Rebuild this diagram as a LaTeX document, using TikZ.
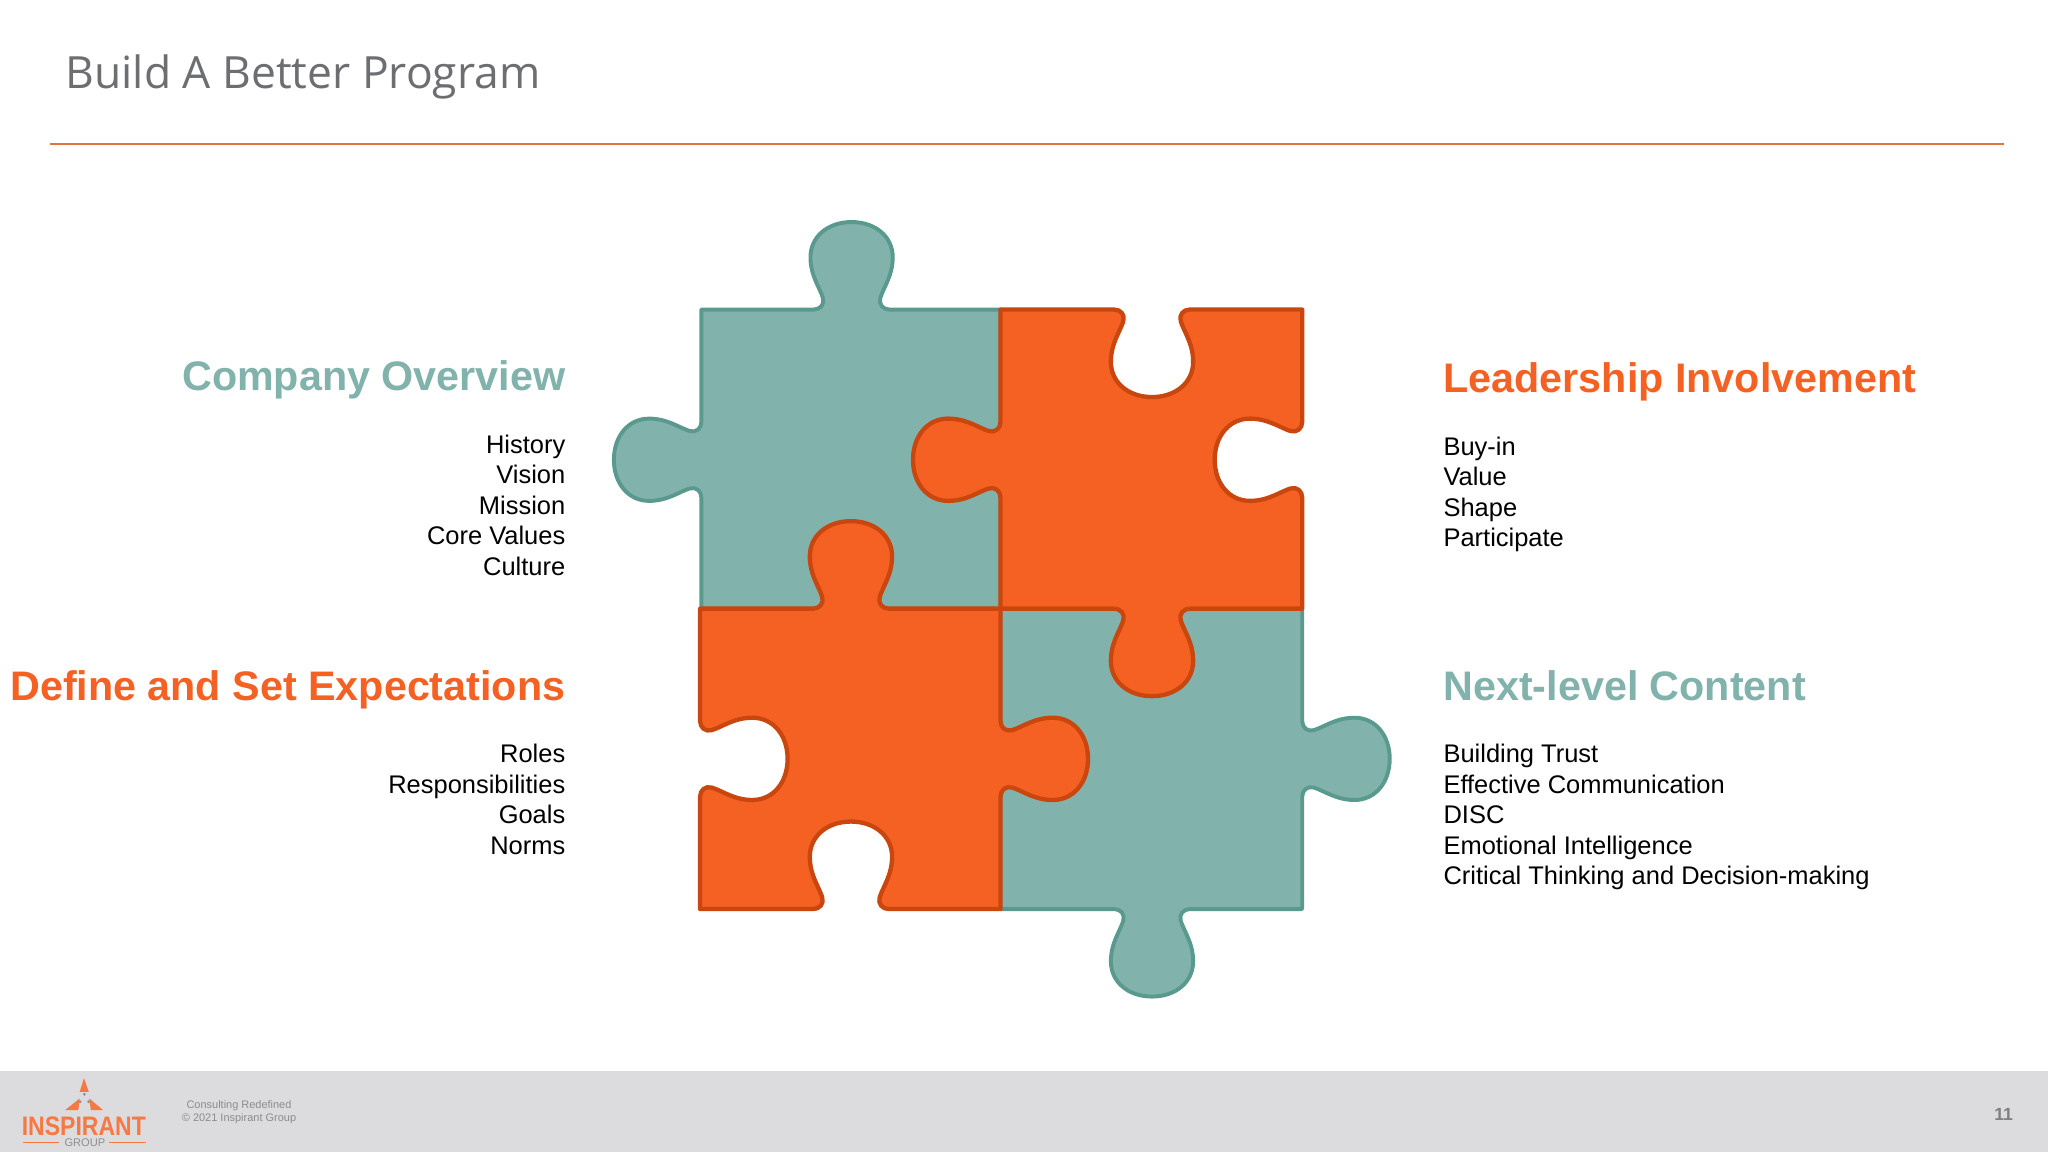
\documentclass[tikz,border=0pt]{standalone}
\usepackage{fontspec}
\setmainfont{Liberation Sans}
\newfontfamily\titlefont{Open Sans}
\definecolor{tealfill}{HTML}{82B2AC}
\definecolor{tealline}{HTML}{5A9A8E}
\definecolor{orangefill}{HTML}{F46122}
\definecolor{orangeline}{HTML}{C9470F}
\definecolor{rulecol}{HTML}{E2743F}
\definecolor{titlecol}{HTML}{6D6E71}
\definecolor{footbg}{HTML}{DCDCDE}
\definecolor{foottext}{HTML}{8C8C8E}
\definecolor{logogray}{HTML}{8E8E90}
\def\Q#1#2#3#4#5#6#7#8{({#1+(#3)*(#7)+(#5)*(#8)},{#2+(#4)*(#7)+(#6)*(#8)})}
\def\tabbody#1{-- #1{-29}{0}
 .. controls #1{-24}{0} and #1{-20.5}{4} .. #1{-22}{9}
 .. controls #1{-24.5}{17} and #1{-31.5}{26} .. #1{-31.5}{40}
 .. controls #1{-31.5}{56} and #1{-18}{67} .. #1{0}{67}
 .. controls #1{18}{67} and #1{31.5}{56} .. #1{31.5}{40}
 .. controls #1{31.5}{26} and #1{24.5}{17} .. #1{22}{9}
 .. controls #1{20.5}{4} and #1{24}{0} .. #1{29}{0} }
% centre x,y ; travel direction ux,uy ; tab direction vx,vy
\def\tabedge#1#2#3#4#5#6{\tabbody{\Q{#1}{#2}{#3}{#4}{#5}{#6}}}
\edef\tealA{(537,237) \tabedge{652}{237}{1}{0}{0}{-1} -- (766,237) -- (766,466) -- (537,466)
  \tabedge{537}{352}{0}{-1}{-1}{0} -- cycle}
\edef\tealB{(766,466) -- (997,466) \tabedge{997}{581}{0}{1}{1}{0} -- (997,696)
  \tabedge{882}{696}{-1}{0}{0}{1} -- (766,696) -- cycle}
\edef\orangeA{(766,237) \tabedge{882}{237}{1}{0}{0}{1} -- (997,237)
  \tabedge{997}{352}{0}{1}{-1}{0} -- (997,466)
  \tabedge{882}{466}{-1}{0}{0}{1} -- (766,466)
  \tabedge{766}{352}{0}{-1}{-1}{0} -- cycle}
\edef\orangeB{(536,466) \tabedge{651.5}{466}{1}{0}{0}{-1} -- (766,466)
  \tabedge{766}{581}{0}{1}{1}{0} -- (766,696)
  \tabedge{651.5}{696}{-1}{0}{0}{-1} -- (536,696)
  \tabedge{536}{581}{0}{-1}{1}{0} -- cycle}
\tikzset{
  tealpiece/.style={fill=tealfill,draw=tealline,line width=3pt,line join=round},
  orangepiece/.style={fill=orangefill,draw=orangeline,line width=3.3pt,line join=round},
  head/.style={font=\bfseries\fontsize{31.6}{36}\selectfont,inner sep=0pt},
  bodyleft/.style={font=\fontsize{19.5}{23.4}\selectfont,align=left,anchor=north west,inner sep=0pt},
  bodyright/.style={font=\fontsize{19.5}{23.4}\selectfont,align=right,anchor=north east,inner sep=0pt},
  logotri/.style={fill=orangefill!85!white,draw=none},
  logodot/.style={fill=logogray,draw=none},
}
\begin{document}
\begin{tikzpicture}[x=1pt,y=-1pt]
\useasboundingbox (0,0) rectangle (1568,882);
\fill[white] (0,0) rectangle (1568,882);
\node[anchor=base west,inner sep=0pt,text=titlecol,font=\titlefont\fontsize{34}{40}\selectfont] (title) at (50,67.5) {Build A Better Program};
\coordinate (ruleL) at (38,110);
\coordinate (ruleR) at (1534,110);
\draw[rulecol,line width=1.4pt] (ruleL) -- (ruleR);

\draw[tealpiece] \tealA;
\draw[tealpiece] \tealB;
\draw[orangepiece] \orangeA;
\draw[orangepiece] \orangeB;

\node[head,anchor=base east,text=tealfill] (h1) at (433,299) {Company Overview};
\node[bodyright] (b1) at (433,332.5) {History\\Vision\\Mission\\Core Values\\Culture};
\node[head,anchor=base east,text=orangefill] (h2) at (433,536) {Define and Set Expectations};
\node[bodyright] (b2) at (433,569.5) {Roles\\Responsibilities\\Goals\\Norms};
\node[head,anchor=base west,text=orangefill] (h3) at (1105,300.5) {Leadership Involvement};
\node[bodyleft] (b3) at (1105,334.2) {Buy-in\\Value\\Shape\\Participate};
\node[head,anchor=base west,text=tealfill] (h4) at (1105,536) {Next-level Content};
\node[bodyleft] (b4) at (1105,569.5) {Building Trust\\Effective Communication\\DISC\\Emotional Intelligence\\Critical Thinking and Decision-making};

\fill[footbg] (0,820) rectangle (1568,882);
\fill[logotri] (64.3,825.4) -- (68,836) -- (61,836) -- cycle;
\fill[logotri] (49.8,850) -- (61,841) -- (60,850) -- cycle;
\fill[logotri] (79,850) -- (68.4,841) -- (69.5,850) -- cycle;
\fill[logodot] (64.6,837.8) circle (1.2);
\fill[logodot] (61.3,843.5) circle (1.2);
\fill[logodot] (67.9,843.5) circle (1.2);
\node[anchor=base west,inner sep=0pt,text=orangefill!85!white] (logoname) at (16.5,869.5)
  {\resizebox{95pt}{14.3pt}{\fontsize{20}{20}\selectfont\bfseries INSPIRANT}};
\node[anchor=base,inner sep=0pt,text=logogray,font=\fontsize{8.5}{8.5}\selectfont] (logogroup) at (65,878) {GROUP};
\coordinate (g1) at (17.9,874.5);
\coordinate (g2) at (45.4,874.5);
\coordinate (g3) at (83.7,874.5);
\coordinate (g4) at (111.8,874.5);
\draw[orangefill!85!white,line width=1pt] (g1) -- (g2);
\draw[orangefill!85!white,line width=1pt] (g3) -- (g4);
\node[align=center,inner sep=0pt,text=foottext,font=\fontsize{8.4}{10}\selectfont] (foot) at (183,851.8) {Consulting Redefined\\© 2021 Inspirant Group};
\node[inner sep=0pt,text=logogray!90!black,font=\bfseries\fontsize{13.5}{15}\selectfont] (page) at (1534,853) {11};
\end{tikzpicture}
\end{document}
